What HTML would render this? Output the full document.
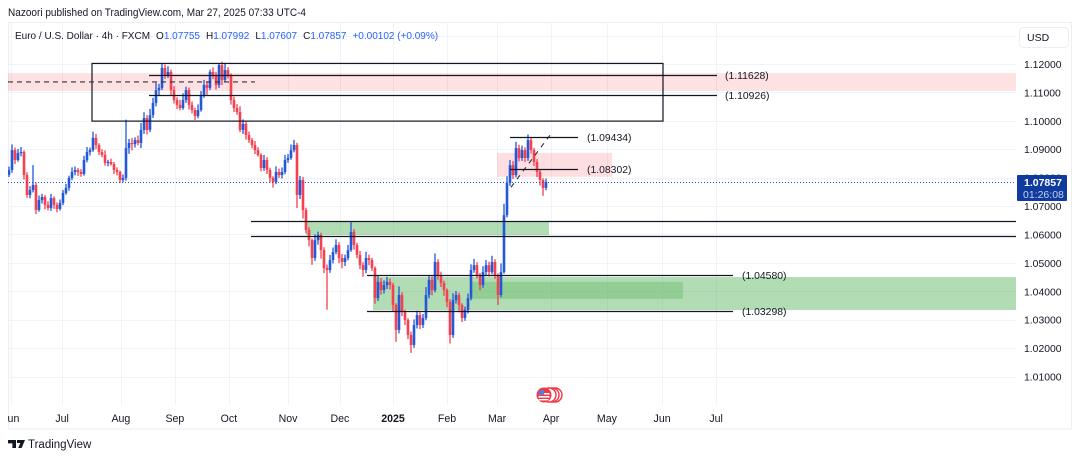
<!DOCTYPE html>
<html lang="en">
<head>
<meta charset="utf-8">
<title>EUR/USD 4h chart</title>
<style>
html,body{margin:0;padding:0;background:#fff;width:1080px;height:459px;overflow:hidden}
svg{display:block;font-family:"Liberation Sans",sans-serif;filter:blur(0.3px)}
text{fill:#131722}
</style>
</head>
<body>
<svg id="chart" xmlns="http://www.w3.org/2000/svg" width="1080" height="459" viewBox="0 0 1080 459">
  <defs><clipPath id="pane-clip"><rect x="8" y="22" width="1064" height="407"/></clipPath></defs>
  <rect x="0" y="0" width="1080" height="459" fill="#ffffff"/>
  <text x="8" y="16" font-size="10.6" fill="#3a3e4a" textLength="298" lengthAdjust="spacingAndGlyphs">Nazoori published on TradingView.com, Mar 27, 2025 07:33 UTC-4</text>
  <rect x="8.5" y="22.5" width="1063" height="406.5" fill="none" stroke="#eceef2"/>
  <g id="grid-layer"></g>
  <g id="zone-layer"></g>
  <g id="candle-layer" clip-path="url(#pane-clip)"></g>
  <g id="line-layer"></g>
  <g id="axis-layer"></g>
  <text x="15" y="39" font-size="10" fill="#131722">Euro / U.S. Dollar · 4h · FXCM<tspan dx="6">O</tspan><tspan fill="#2962ff">1.07755</tspan><tspan dx="6">H</tspan><tspan fill="#2962ff">1.07992</tspan><tspan dx="6">L</tspan><tspan fill="#2962ff">1.07607</tspan><tspan dx="6">C</tspan><tspan fill="#2962ff">1.07857</tspan><tspan dx="6" fill="#2962ff">+0.00102 (+0.09%)</tspan></text>
  <g>
    <rect x="1019.5" y="27.5" width="49" height="20" rx="4" fill="#fff" stroke="#eceef2"/>
    <text x="1027" y="41" font-size="10.5">USD</text>
  </g>
  <g>
    <rect x="1017" y="175" width="50" height="26" rx="1" fill="#0f3a9e"/>
    <text x="1024" y="186" font-size="10.5" font-weight="bold" style="fill:#fff">1.07857</text>
    <text x="1023" y="198" font-size="10.5" style="fill:#c5d2ee">01:26:08</text>
  </g>
  <g>
    <circle cx="555" cy="395" r="7" fill="#fff" stroke="#f23645" stroke-width="1.4"/>
    <circle cx="552" cy="395" r="7" fill="#fff" stroke="#f23645" stroke-width="1.4"/>
    <circle cx="549" cy="395" r="7" fill="#fff" stroke="#f23645" stroke-width="1.4"/>
    <circle cx="544" cy="395" r="7.5" fill="#f23645"/>
    <rect x="538.5" y="393" width="11" height="1.6" fill="#fff"/>
    <rect x="538.5" y="396" width="11" height="1.6" fill="#fff"/>
    <rect x="538.5" y="399" width="10" height="1.4" fill="#fff"/>
    <path d="M538 394.5A6 6 0 0 1 544 389.5V394.5Z" fill="#4a80e0"/>
  </g>
  <g>
    <path d="M8 440h8v8h-3.6v-4.6H8zM17 440h8l-3.4 8h-3.4l2.2-5H17z" fill="#131722"/>
    <circle cx="18.6" cy="441.5" r="1.5" fill="#131722"/>
    <text x="28" y="448" font-size="11.5" fill="#131722">TradingView</text>
  </g>
</svg>
<script>
// Close of each 4h bar
const closes = [
1.0827,1.0897,1.0862,1.0887,1.0890,1.0809,1.0739,1.0756,1.0774,1.0686,1.0721,1.0732,1.0704,1.0693,1.0728,1.0704,1.0690,1.0711,
1.0746,1.0764,1.0799,1.0820,1.0827,1.0820,1.0813,1.0862,1.0890,1.0897,1.0940,1.0915,1.0890,1.0880,1.0852,1.0855,1.0848,1.0827,
1.0820,1.0792,1.0799,1.0904,1.0922,1.0918,1.0932,1.0922,1.0968,1.1010,1.0968,1.1020,1.1063,1.1108,1.1116,1.1186,1.1161,1.1172,
1.1108,1.1073,1.1056,1.1045,1.1073,1.1108,1.1056,1.1038,1.1017,1.1038,1.1091,1.1126,1.1116,1.1172,1.1161,1.1126,1.1196,1.1144,
1.1179,1.1161,1.1073,1.1045,1.1031,1.0968,1.0989,1.0950,1.0932,1.0915,1.0897,1.0880,1.0834,1.0862,1.0827,1.0799,1.0785,1.0820,
1.0809,1.0820,1.0862,1.0869,1.0897,1.0915,1.0739,1.0792,1.0686,1.0616,1.0580,1.0517,1.0580,1.0598,1.0545,1.0482,1.0475,1.0510,
1.0538,1.0563,1.0517,1.0503,1.0517,1.0545,1.0609,1.0563,1.0528,1.0492,1.0475,1.0517,1.0510,1.0482,1.0376,1.0433,1.0404,1.0422,
1.0433,1.0422,1.0352,1.0264,1.0387,1.0327,1.0299,1.0246,1.0211,1.0281,1.0316,1.0281,1.0306,1.0387,1.0440,1.0404,1.0503,1.0457,
1.0429,1.0404,1.0362,1.0246,1.0369,1.0387,1.0352,1.0306,1.0334,1.0376,1.0475,1.0492,1.0457,1.0422,1.0468,1.0492,1.0468,1.0503,
1.0457,1.0387,1.0468,1.0668,1.0781,1.0844,1.0809,1.0904,1.0869,1.0897,1.0869,1.0932,1.0897,1.0855,1.0820,1.0792,1.0764,1.0785
];
const firstOpen = 1.0810;
// Wick lengths above and below each body, in pips
const upperWicks = [
12,20,9,14,18,6,10,14,70,8,16,11,7,13,15,6,9,12,
10,14,8,16,12,7,10,15,18,9,22,14,6,10,16,8,12,7,
9,5,12,100,14,18,10,16,24,20,10,22,18,26,14,16,12,20,
8,14,10,18,24,12,9,12,8,20,14,18,10,8,16,12,4,12,
25,10,6,12,14,20,16,10,12,8,14,10,6,18,10,8,6,20,
12,16,18,14,20,18,8,14,10,8,10,6,20,12,8,10,12,18,
16,20,10,14,12,18,34,10,8,14,10,22,12,8,6,24,14,16,
18,12,8,6,30,10,8,6,12,20,16,10,14,28,16,12,30,10,
12,8,6,10,24,14,8,6,12,16,20,22,10,8,20,18,12,22,
10,6,30,40,24,18,14,22,12,16,10,20,10,8,10,8,6,12
];
const lowerWicks = [
8,10,14,6,12,16,10,12,8,14,6,12,16,8,10,14,12,6,
8,6,10,8,12,14,10,6,8,12,6,14,10,8,10,12,6,14,
12,10,8,10,20,22,12,8,18,14,16,8,10,12,20,8,14,10,
20,12,14,8,6,10,16,12,14,8,6,10,24,8,14,16,10,18,
8,12,16,14,10,8,14,16,10,12,14,6,12,10,14,16,20,8,
10,12,8,10,6,8,46,14,30,12,22,24,10,16,30,18,140,10,
12,8,18,22,14,8,6,16,12,14,24,12,18,10,20,10,16,12,
14,16,24,42,12,14,18,14,28,10,12,14,10,8,12,18,8,16,
14,20,18,30,10,12,26,14,10,12,8,10,12,18,10,12,16,8,
14,35,8,6,8,10,14,8,12,10,14,10,12,14,18,20,28,8
];
// Axis labels
const priceTicks = [1.13,1.12,1.11,1.10,1.09,1.08,1.07,1.06,1.05,1.04,1.03,1.02,1.01];
const priceLabels = ["","1.12000","1.11000","1.10000","1.09000","1.08000","1.07000","1.06000","1.05000","1.04000","1.03000","1.02000","1.01000"];
const monthLabels = ["Jun","Jul","Aug","Sep","Oct","Nov","Dec","2025","Feb","Mar","Apr","May","Jun","Jul"];
const monthBars = [0.6,17.7,37.3,55.3,73.3,93,110.3,128,146,162.7,180.7,199.3,217.7,235.7];
// Drawings in chart units: bar index and price
const zoneStartBars = [-0.33,162.67,99,121.33,153.67];
const zoneEndBars = [335.67,201,180,335.67,224.67];
const zoneTops = [1.1168,1.0887,1.0647,1.0450,1.0433];
const zoneBottoms = [1.1105,1.0803,1.0598,1.0334,1.0373];
const zoneColors = ["#f23645","#f23645","#4caf50","#4caf50","#4caf50"];
const zoneAlphas = [0.15,0.16,0.43,0.43,0.3];
const levelPrices = [1.11628,1.10926,1.09434,1.08302,1.0647,1.0595,1.0458,1.03298];
const levelStartBars = [46.67,46.67,167,167,80.67,80.67,119.33,119.33];
const levelEndBars = [236,236,189.67,189.67,335.67,335.67,241.33,241.33];
const levelLabels = ["(1.11628)","(1.10926)","(1.09434)","(1.08302)","","","(1.04580)","(1.03298)"];
const boxBars = [27.67,218];
const boxPrices = [1.1202,1.0999];
const dashedPrice = 1.1137;
const dashedBars = [-0.33,82];
const trendBars = [167.3,180.3];
const trendPrices = [1.0766,1.0949];
const lastPrice = 1.07857;

function xScale(bar){return 9+3*bar;}
function yScale(price){return 64+(1.12-price)*2841;}
const NS='http://www.w3.org/2000/svg';
function make(tag,parent,props){
  const el=document.createElementNS(NS,tag);
  for(const k in props){el.setAttribute(k,props[k]);}
  parent.appendChild(el);
  return el;
}
const gridLayer=document.getElementById('grid-layer');
const zoneLayer=document.getElementById('zone-layer');
const candleLayer=document.getElementById('candle-layer');
const lineLayer=document.getElementById('line-layer');
const axisLayer=document.getElementById('axis-layer');

priceTicks.forEach(function(p,i){
  const y=Math.round(yScale(p))+0.5;
  const g=make('line',gridLayer,{x1:9,x2:1016,y1:y,y2:y,stroke:'#f0f3f7','stroke-width':1});
  
  
  if(priceLabels[i]){
    const t=make('text',axisLayer,{x:1024,y:yScale(p)+4,'font-size':10.4});
    
    
    t.textContent=priceLabels[i];
  }
});
monthBars.forEach(function(b,i){
  const x=Math.round(xScale(b))+0.5;
  if(x>9){
    const g=make('line',gridLayer,{x1:x,x2:x,y1:23,y2:405,stroke:'#f0f3f7','stroke-width':1});
    
    
  }
  const t=make('text',axisLayer,{x:xScale(b),y:422,'font-size':10.6,'text-anchor':'middle','clip-path':'url(#pane-clip)','font-weight':monthLabels[i]==='2025'?'bold':'normal'});
  
  
  t.textContent=monthLabels[i];
});
zoneTops.forEach(function(top,i){
  const r=make('rect',zoneLayer,{x:xScale(zoneStartBars[i]),y:yScale(top),width:xScale(zoneEndBars[i])-xScale(zoneStartBars[i]),height:yScale(zoneBottoms[i])-yScale(top),fill:zoneColors[i],'fill-opacity':zoneAlphas[i]});
  
  
});
const UP='#2358d8', DOWN='#f4404f';
closes.forEach(function(c,i){
  const o=i===0?firstOpen:closes[i-1];
  const hi=Math.max(o,c)+upperWicks[i]/10000;
  const lo=Math.min(o,c)-lowerWicks[i]/10000;
  const col=c>=o?UP:DOWN;
  const x=xScale(i);
  const w=make('line',candleLayer,{x1:x,x2:x,y1:yScale(hi),y2:yScale(lo),stroke:col,'stroke-width':1.3});
  
  
  const bt=yScale(Math.max(o,c));
  const bb=yScale(Math.min(o,c));
  const r=make('rect',candleLayer,{x:x-1.3,y:bt,width:2.6,height:Math.max(bb-bt,1),fill:col});
  
  
});
const lastY=Math.round(yScale(lastPrice))+0.5;
const lastLine=make('line',lineLayer,{x1:8,x2:1016,y1:lastY,y2:lastY,stroke:'#1f4fd8','stroke-width':1,'stroke-dasharray':'1 2'});


const box=make('rect',lineLayer,{x:xScale(boxBars[0]),y:yScale(boxPrices[0]),width:xScale(boxBars[1])-xScale(boxBars[0]),height:yScale(boxPrices[1])-yScale(boxPrices[0]),fill:'none',stroke:'#131722','stroke-width':1.2});


const dashed=make('line',lineLayer,{x1:xScale(dashedBars[0]),x2:xScale(dashedBars[1]),y1:yScale(dashedPrice),y2:yScale(dashedPrice),stroke:'#333','stroke-width':1.1,'stroke-dasharray':'5 4'});


const trend=make('line',lineLayer,{x1:xScale(trendBars[0]),x2:xScale(trendBars[1]),y1:yScale(trendPrices[0]),y2:yScale(trendPrices[1]),stroke:'#222','stroke-width':1,'stroke-dasharray':'5 5'});


levelPrices.forEach(function(p,i){
  const y=Math.round(yScale(p))+0.5;
  const x2=xScale(levelEndBars[i]);
  const l=make('line',lineLayer,{x1:xScale(levelStartBars[i]),x2:x2,y1:y,y2:y,stroke:'#131722','stroke-width':1.2});
  
  
  if(levelLabels[i]){
    const t=make('text',lineLayer,{x:x2+(i<2?8:9),y:y+3.5,'font-size':10.4});
    
    
    t.textContent=levelLabels[i];
  }
});
</script>
</body>
</html>
